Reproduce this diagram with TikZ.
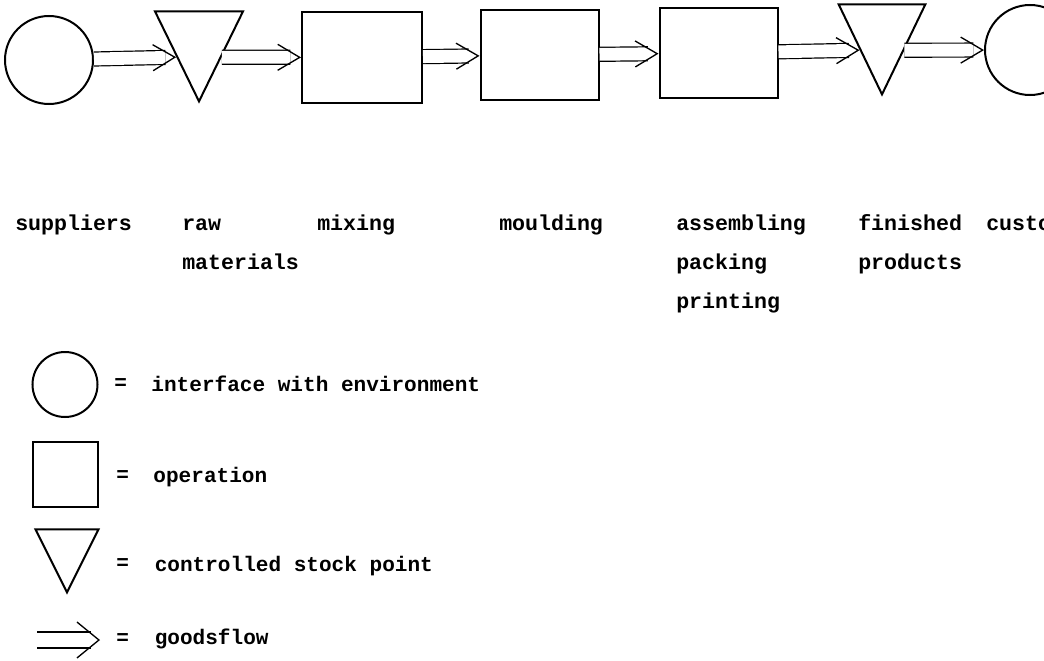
\documentclass[tikz,border=0pt]{standalone}
\usepackage{fontspec}
\setmonofont{Liberation Mono}
\usetikzlibrary{shapes.geometric,arrows.meta,positioning,decorations.markings}

\newcommand\typewr{\ttfamily\bfseries\fontsize{15.8}{19}\selectfont}
\newcommand\typewrtop{\ttfamily\bfseries\fontsize{16.2}{19}\selectfont}

\tikzset{
  iface/.style={circle, draw, line width=1.5pt, inner sep=0pt, minimum size=66pt},
  opbox/.style={rectangle, draw, line width=1.5pt, inner sep=0pt,
    minimum width=88.5pt, minimum height=67.5pt},
  stockpt/.style={isosceles triangle, shape border rotate=-90,
    isosceles triangle stretches, draw, line width=1.5pt, inner sep=0pt,
    minimum width=66pt, minimum height=67.5pt, anchor=apex},
  goodsflow/.style n args={3}{double, double distance=#1, line width=0.9pt,
    shorten >=#2, postaction={decorate, shorten >=0pt,
      decoration={markings, mark=at position 1 with {\arrow[line width=1pt]{#3}}}}},
  goods/.style={goodsflow={9.6pt}{8pt}{Straight Barb[length=16.5pt,width=19.5pt]}},
  keygoods/.style={goodsflow={11.1pt}{7pt}{Straight Barb[length=16.5pt,width=27pt]}},
  lbl/.style={font=\typewrtop, anchor=base west, inner sep=0pt},
  keylbl/.style={font=\typewr, anchor=base west, inner sep=0pt},
}

\begin{document}
\begin{tikzpicture}[x=0.75pt, y=-0.75pt]
\useasboundingbox (0,0) rectangle (1044,660);
\clip (0,0) rectangle (1044,660);

% goods flow chain
\node[iface] (sup) at (49,60) {};
\node[stockpt] (rawmat) at (199,104) {};
\node[opbox, minimum width=90pt] (mix) at (362,57.5) {};
\node[opbox] (mould) at (539.5,55) {};
\node[opbox] (assem) at (718.5,53) {};
\node[stockpt, minimum width=65pt] (finprod) at (882,97) {};
\node[iface, minimum size=67.5pt] (cust) at (1030,50) {};

\draw[goods] (sup) -- (rawmat.right side);
\draw[goods] (rawmat.left side) -- (mix);
\draw[goods] (mix) -- (mould);
\draw[goods] (mould) -- (assem);
\draw[goods] (assem) -- (finprod.right side);
\draw[goods] (finprod.left side) -- (cust);

% labels under the chain
\node[lbl] (lsup) at (15,230) {suppliers};
\node[lbl] (lraw) at (182,230) {raw};
\node[lbl] (lmat) at (182,269) {materials};
\node[lbl] (lmix) at (317,230) {mixing};
\node[lbl] (lmould) at (499,230) {moulding};
\node[lbl] (lassem) at (676,230) {assembling};
\node[lbl] (lpack) at (676,269) {packing};
\node[lbl] (lprint) at (676,308) {printing};
\node[lbl] (lfin) at (858,230) {finished};
\node[lbl] (lprod) at (858,269) {products};
\node[lbl] (lcust) at (986,230) {customers};

% legend
\node[iface, minimum size=48.75pt] (kcirc) at (65,384.5) {};
\node[opbox, minimum width=48.75pt, minimum height=48.75pt] (kbox) at (65.5,474.5) {};
\node[stockpt, minimum width=47.25pt, minimum height=47.25pt] (ktri) at (67,595) {};
\coordinate (kflowa) at (37,640);
\coordinate (kflowb) at (100,640);
\draw[keygoods] (kflowa) -- (kflowb);

\node[keylbl] (eqa) at (114,389) {=};
\node[keylbl] (eqb) at (116,481) {=};
\node[keylbl] (eqc) at (116,569) {=};
\node[keylbl] (eqd) at (116,644) {=};
\node[keylbl, base right=18pt of eqa.base east, yshift=-1.5pt] (kcirctxt) {interface with environment};
\node[keylbl, base right=18pt of eqb.base east, yshift=-1pt] (kboxtxt) {operation};
\node[keylbl, base right=19pt of eqc.base east, yshift=-1.5pt] (ktritxt) {controlled stock point};
\node[keylbl, base right=19pt of eqd.base east, yshift=-0.7pt] (kflowtxt) {goodsflow};
\end{tikzpicture}
\end{document}
